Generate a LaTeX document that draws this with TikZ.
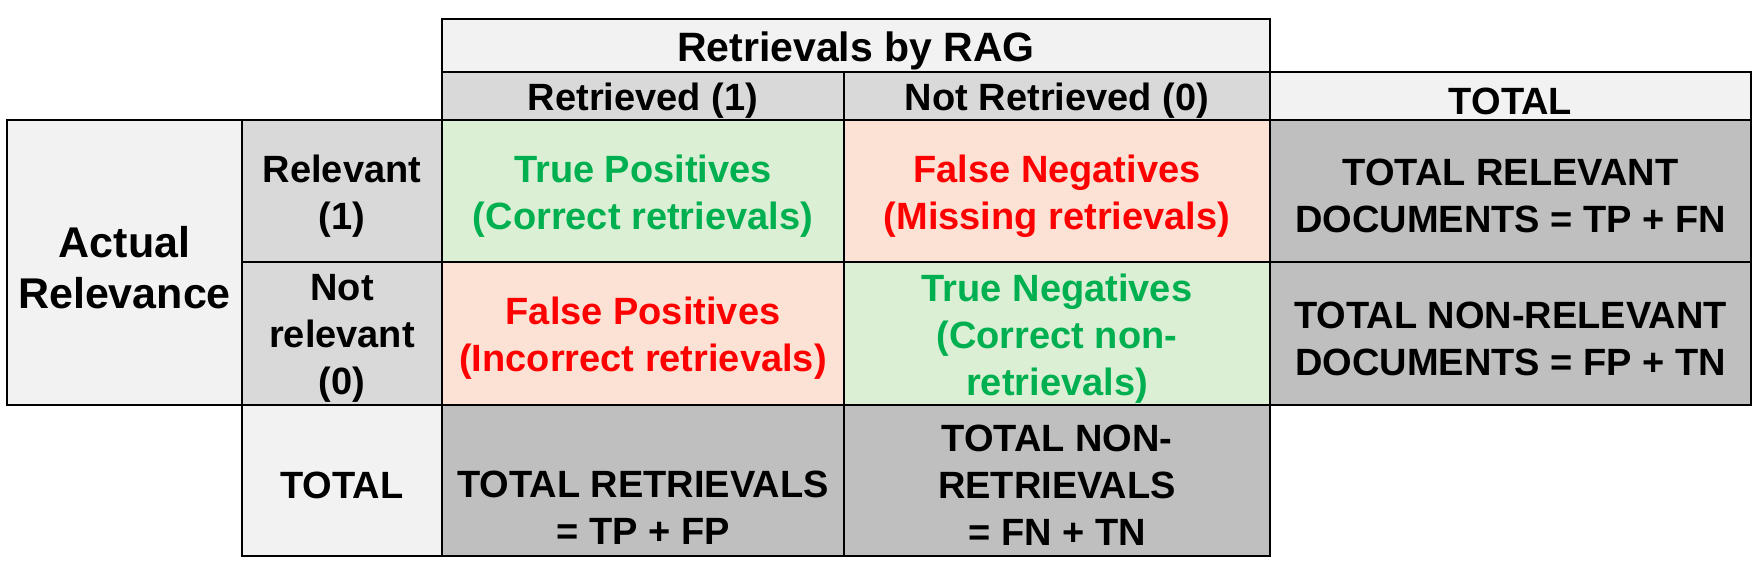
\documentclass[tikz,border=0pt]{standalone}
\usepackage{fontspec}
\setmainfont{Liberation Sans}
\definecolor{lg}{HTML}{F2F2F2}
\definecolor{mg}{HTML}{D9D9D9}
\definecolor{dg}{HTML}{BFBFBF}
\definecolor{gf}{HTML}{DAEFD3}
\definecolor{rf}{HTML}{FBE2D5}
\definecolor{gt}{HTML}{00B050}
\definecolor{rt}{HTML}{FF0000}
\tikzset{cell/.style={draw=black,line width=1.3pt},
 txt/.style={align=center,font=\bfseries\fontsize{38}{47}\selectfont,inner sep=0pt,yshift=-5pt}}
\newcommand{\cellbox}[8][]{% opts, name, x1,y1,x2,y2, fill, text
 \filldraw[cell,fill=#7] (#3,#4) rectangle (#5,#6);
 \node[txt,#1] (#2) at ({(#3+#5)/2},{(#4+#6)/2}) {#8};}
\begin{document}
\begin{tikzpicture}[x=1pt,y=-1pt]
\useasboundingbox (0,0) rectangle (1762,568);
\cellbox[font=\bfseries\fontsize{41}{47}\selectfont]{rag}{442}{19}{1270}{72}{lg}{Retrievals by RAG}
\cellbox{ret}{442}{72}{844}{120}{mg}{Retrieved (1)}
\cellbox{nret}{844}{72}{1270}{120}{mg}{Not Retrieved (0)}
\cellbox{tot}{1270}{72}{1751}{120}{lg}{TOTAL}
\cellbox[font=\bfseries\fontsize{43}{51}\selectfont]{act}{7}{120}{242}{405}{lg}{Actual\\Relevance}
\cellbox{rel}{242}{120}{442}{262}{mg}{Relevant\\(1)}
\cellbox{nrel}{242}{262}{442}{405}{mg}{Not\\relevant\\(0)}
\cellbox{tp}{442}{120}{844}{262}{gf}{\color{gt}True Positives\\\color{gt}(Correct retrievals)}
\cellbox{fn}{844}{120}{1270}{262}{rf}{\color{rt}False Negatives\\\color{rt}(Missing retrievals)}
\cellbox{fp}{442}{262}{844}{405}{rf}{\color{rt}False Positives\\\color{rt}(Incorrect retrievals)}
\cellbox{tn}{844}{262}{1270}{405}{gf}{\color{gt}True Negatives\\\color{gt}(Correct non-\\\color{gt}retrievals)}
\cellbox{trel}{1270}{120}{1751}{262}{dg}{TOTAL RELEVANT\\DOCUMENTS = TP + FN}
\cellbox{tnrel}{1270}{262}{1751}{405}{dg}{TOTAL NON-RELEVANT\\DOCUMENTS = FP + TN}
\cellbox{trow}{242}{405}{442}{556}{lg}{TOTAL}
\cellbox[yshift=-22pt]{tret}{442}{405}{844}{556}{dg}{TOTAL RETRIEVALS\\= TP + FP}
\cellbox{tnret}{844}{405}{1270}{556}{dg}{TOTAL NON-\\RETRIEVALS\\= FN + TN}
\end{tikzpicture}
\end{document}
